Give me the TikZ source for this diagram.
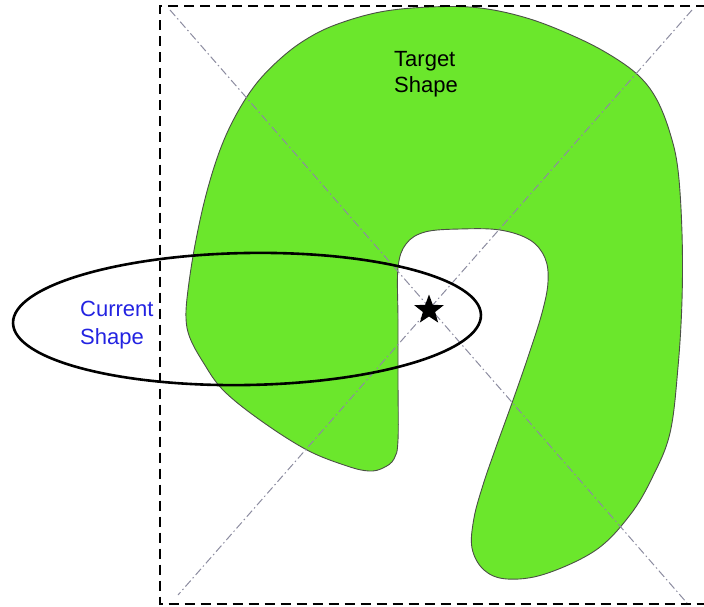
\documentclass[tikz,border=0pt]{standalone}
\usepackage{fontspec}
\setmainfont{Liberation Sans}
\usetikzlibrary{shapes.geometric}
\definecolor{shapegreen}{RGB}{107,231,44}
\definecolor{outlinegray}{RGB}{75,80,70}
\definecolor{diaggray}{RGB}{140,140,160}
\definecolor{labelblue}{RGB}{35,35,225}
\begin{document}
\begin{tikzpicture}[x=1pt,y=-1pt,
  frame/.style={line width=2pt,dash pattern=on 10pt off 6pt},
  diag/.style={diaggray,line width=1pt,dash pattern=on 8pt off 3pt on 1.5pt off 3pt},
  target/.style={fill=shapegreen,draw=outlinegray,line width=0.9pt},
  current/.style={draw=black,line width=2.6pt},
  lbl/.style={font=\fontsize{22}{26}\selectfont,anchor=base west,inner sep=0pt},
  centrestar/.style={star,star points=5,star point ratio=2.4,fill=black,minimum size=31pt,inner sep=0pt}]
\useasboundingbox (0,0) rectangle (704,607);
% target shape
\path[target] plot[smooth cycle,tension=0.6] coordinates {
 (430,7) (480,8) (530,19) (580,39) (615,58) (640,77) (657,100) (670,133)
 (678,170) (682,233) (682,300) (678,367) (670,433) (652,478) (630,515)
 (596,550) (545,574) (507,579) (484,570) (472,548) (474,518) (483,485)
 (495,450) (512,403) (528,357) (542,313) (548,282) (545,258) (530,240)
 (500,230) (460,229) (425,232) (406,244) (398,268) (398,320) (398,380)
 (398,440) (394,459) (383,468) (369,471) (347,466) (307,450) (260,420)
 (223,390) (203,362) (190,338) (186,318) (188,290) (195,245) (206,195)
 (220,150) (236,115) (256,84) (280,59) (305,40) (335,25) (380,12)};
% diagonals
\coordinate (d1a) at (170,10);
\coordinate (d1b) at (687,603);
\coordinate (d2a) at (692,10);
\coordinate (d2b) at (178,595);
\draw[diag] (d1a) -- (d1b);
\draw[diag] (d2a) -- (d2b);
% frame
\coordinate (f1) at (706,6.5);
\coordinate (f2) at (160,6.5);
\coordinate (f3) at (160,604);
\coordinate (f4) at (706,604);
\draw[frame] (f1) -- (f2) -- (f3) -- (f4);
% current shape
\draw[current,rotate around={1:(247,319)}] (247,319) ellipse [x radius=234pt,y radius=66pt];
% star
\node[centrestar] (centre) at (429,310) {};
% labels
\node[lbl] (tgt1) at (394,67) {Target};
\node[lbl] (tgt2) at (394,93) {Shape};
\node[lbl,text=labelblue] (cur1) at (80,316) {Current};
\node[lbl,text=labelblue] (cur2) at (80,344) {Shape};
\end{tikzpicture}
\end{document}
